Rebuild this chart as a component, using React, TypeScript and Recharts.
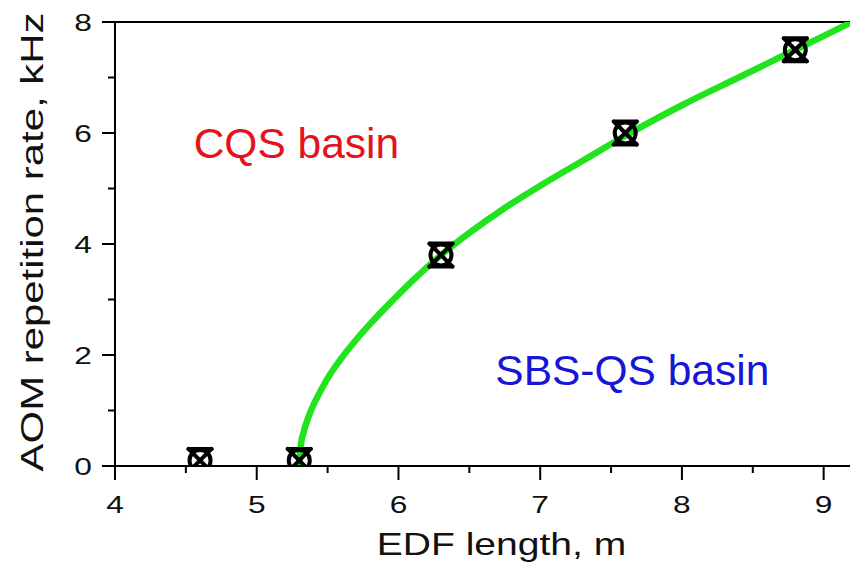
import React from 'react';
import { ComposedChart, XAxis, YAxis, Line, ReferenceLine, ReferenceDot } from 'recharts';

// measured points (EDF length, m ; AOM repetition rate, kHz)
const markerX = [4.6, 5.3, 6.3, 7.6, 8.8];
const markerY = [0.1, 0.1, 3.8, 6.0, 7.5];

// green boundary curve
const curveX = [5.3, 5.31, 5.33, 5.36, 5.4, 5.45, 5.5, 5.6, 5.7, 5.8, 5.95, 6.1, 6.3, 6.5, 6.75, 7.0, 7.3, 7.6, 8.0, 8.4, 8.8, 9.2];
const curveY = [0, 0.35, 0.6, 0.85, 1.1, 1.35, 1.58, 1.95, 2.27, 2.56, 2.96, 3.34, 3.8, 4.2, 4.65, 5.05, 5.5, 5.95, 6.5, 7.0, 7.5, 8.0];

const xTicks = [4, 4.5, 5, 5.5, 6, 6.5, 7, 7.5, 8, 8.5, 9];
const yTicks = [0, 1, 2, 3, 4, 5, 6, 7, 8];
const xMajor = [4, 5, 6, 7, 8, 9];
const yMajor = [0, 2, 4, 6, 8];

const xTitle = 'EDF length, m';
const yTitle = 'AOM repetition rate, kHz';
const labelCQS = { x: 5.28, y: 5.55, text: 'CQS basin' };
const labelSBS = { x: 7.65, y: 1.46, text: 'SBS-QS basin' };

const markerData = markerX.map((x, i) => ({ x, y: markerY[i] }));
const curveData = curveX.map((x, i) => ({ x, y: curveY[i] }));

const FONT = '"Liberation Sans", Arial, sans-serif';

// chart layout
const CHART_W = 852;
const CHART_H = 565;
const MARGIN_TOP = 22;
const X_AXIS_H = 99;
const Y_AXIS_W = 115;

const XTick = (props: any) => {
  const { x, y, payload } = props;
  const v = payload.value;
  const major = xMajor.includes(v);
  return (
    <g>
      <line x1={x} x2={x} y1={y} y2={y + (major ? 14 : 7)} stroke="#000" strokeWidth={2} />
      {major && (
        <text
          transform={`translate(${x},${y + 47}) scale(1.35,1)`}
          textAnchor="middle"
          fontSize={23.5}
          fontFamily={FONT}
          fill="#111"
        >
          {v}
        </text>
      )}
    </g>
  );
};

const YTick = (props: any) => {
  const { x, y, payload } = props;
  const v = payload.value;
  const major = yMajor.includes(v);
  return (
    <g>
      <line x1={x} x2={x - (major ? 13 : 7)} y1={y} y2={y} stroke="#000" strokeWidth={2} />
      {major && (
        <text
          transform={`translate(${x - 23},${y + 8.5}) scale(1.35,1)`}
          textAnchor="end"
          fontSize={23.5}
          fontFamily={FONT}
          fill="#111"
        >
          {v}
        </text>
      )}
    </g>
  );
};

const Marker = (props: any) => {
  const { cx, cy, index } = props;
  if (cx == null || cy == null) return null;
  const s = 11.5;
  const clipId = `marker-clip-${index}`;
  return (
    <g>
      <defs>
        <clipPath id={clipId}>
          <rect
            x={Y_AXIS_W}
            y={MARGIN_TOP}
            width={CHART_W - Y_AXIS_W}
            height={CHART_H - MARGIN_TOP - X_AXIS_H - 1}
          />
        </clipPath>
      </defs>
      <g clipPath={`url(#${clipId})`} stroke="#000" strokeWidth={4} fill="none" strokeLinecap="round">
        <circle cx={cx} cy={cy} r={10.5} />
        <line x1={cx - s} y1={cy - s} x2={cx + s} y2={cy + s} />
        <line x1={cx - s} y1={cy + s} x2={cx + s} y2={cy - s} />
        <line x1={cx - s} y1={cy - s} x2={cx + s} y2={cy - s} />
        <line x1={cx - s} y1={cy + s} x2={cx + s} y2={cy + s} />
      </g>
    </g>
  );
};

const annot = (text: string, color: string) => (p: any) => (
  <text x={p.cx} y={p.cy} textAnchor="middle" fontSize={42.5} fontFamily={FONT} fill={color}>
    {text}
  </text>
);

export default function App() {
  return (
    <div style={{ position: 'fixed', left: 0, top: 0, width: 850, height: 565, overflow: 'hidden', background: '#fff' }}>
      <ComposedChart width={CHART_W} height={CHART_H} margin={{ top: MARGIN_TOP, right: 0, bottom: 0, left: 0 }}>
        <XAxis
          type="number"
          dataKey="x"
          domain={[4, 9.2]}
          ticks={xTicks}
          interval={0}
          allowDataOverflow
          height={X_AXIS_H}
          tickSize={0}
          tickMargin={0}
          tickLine={false}
          axisLine={{ stroke: '#000', strokeWidth: 2 }}
          tick={<XTick />}
          label={{
            content: (p: any) => {
              const vb = p.viewBox;
              return (
                <text
                  transform={`translate(${vb.x + vb.width / 2 + 18},555) scale(1.22,1)`}
                  textAnchor="middle"
                  fontSize={32}
                  fontFamily={FONT}
                  fill="#111"
                >
                  {xTitle}
                </text>
              );
            },
          }}
        />
        <YAxis
          type="number"
          dataKey="y"
          domain={[0, 8]}
          ticks={yTicks}
          interval={0}
          allowDataOverflow
          width={Y_AXIS_W}
          tickSize={0}
          tickMargin={0}
          tickLine={false}
          axisLine={{ stroke: '#000', strokeWidth: 2 }}
          tick={<YTick />}
          label={{
            content: (p: any) => {
              const vb = p.viewBox;
              return (
                <text
                  transform={`translate(${vb.x + 43},${vb.y + vb.height / 2 - 2}) rotate(-90) scale(1.31,1)`}
                  textAnchor="middle"
                  fontSize={32}
                  fontFamily={FONT}
                  fill="#111"
                >
                  {yTitle}
                </text>
              );
            },
          }}
        />
        <ReferenceLine y={8} stroke="#000" strokeWidth={2} />
        <Line
          data={markerData}
          dataKey="y"
          stroke="none"
          dot={<Marker />}
          activeDot={false}
          isAnimationActive={false}
        />
        <Line
          data={curveData}
          dataKey="y"
          type="monotone"
          stroke="#22e41e"
          strokeWidth={6.5}
          dot={false}
          activeDot={false}
          isAnimationActive={false}
        />
        <ReferenceDot x={labelCQS.x} y={labelCQS.y} r={0} shape={annot(labelCQS.text, '#e5121e')} />
        <ReferenceDot x={labelSBS.x} y={labelSBS.y} r={0} shape={annot(labelSBS.text, '#1616d4')} />
      </ComposedChart>
    </div>
  );
}
